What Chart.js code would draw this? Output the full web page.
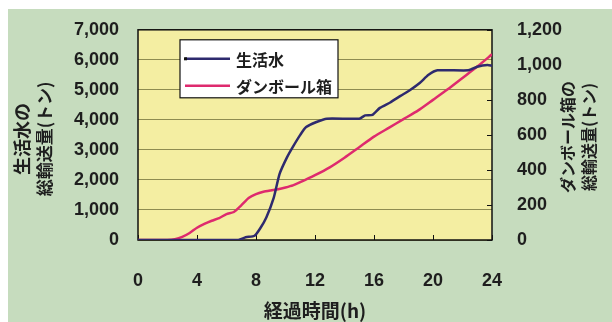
<!DOCTYPE html>
<html lang="ja">
<head>
<meta charset="utf-8">
<script src="https://cdn.jsdelivr.net/npm/chart.js@4.4.1/dist/chart.umd.min.js"></script>
<style>
  body { margin: 0; background: #fff; }
  canvas { display: block; }
</style>
</head>
<body>
<canvas id="chart" width="612" height="322"></canvas>
<script>
// 生活水 (left axis, t)
const waterHours = [0, 3, 6.8, 7.3, 7.9, 8.3, 8.7, 9.2, 9.6, 10.1, 10.5, 11, 11.4, 12.1, 12.8, 15, 15.4, 15.9, 16.4, 17.1, 17.8, 18.4, 19.1, 19.7, 20.3, 22.4, 23, 23.7, 24];
const waterTons = [0, 0, 0, 90, 140, 400, 750, 1400, 2200, 2750, 3100, 3500, 3760, 3930, 4040, 4040, 4150, 4170, 4400, 4580, 4800, 4980, 5230, 5500, 5650, 5650, 5770, 5830, 5800];

// ダンボール箱 (right axis, t)
const boxHours = [0, 1, 2, 2.5, 3, 3.5, 4, 4.5, 5, 5.5, 6, 6.5, 7, 7.5, 8, 8.5, 9, 9.5, 10, 10.5, 11, 12, 13, 14, 15, 16, 17, 18, 19, 20, 21, 22, 23, 24];
const boxTons = [0, 0, 0, 5, 18, 40, 70, 92, 110, 125, 148, 160, 198, 240, 262, 275, 283, 290, 300, 312, 330, 370, 415, 470, 530, 590, 640, 690, 740, 800, 860, 925, 990, 1060];

const xTicks = [0, 4, 8, 12, 16, 20, 24];
const leftTicks = [0, 1000, 2000, 3000, 4000, 5000, 6000, 7000];
const rightTicks = [0, 200, 400, 600, 800, 1000, 1200];

const FONT = "'Liberation Sans', 'Noto Sans CJK JP', sans-serif";
const JP_FONT = "'Noto Sans CJK JP', sans-serif";
const TEXT = '#1e1e1e';

const toPoints = (xs, ys) => xs.map((x, i) => ({ x: x, y: ys[i] }));
const fmt = v => v.toLocaleString('en-US');

const backdrop = {
  id: 'backdrop',
  beforeDraw(chart) {
    const { ctx, chartArea: a, width, height } = chart;
    ctx.save();
    ctx.fillStyle = '#ffffff';
    ctx.fillRect(0, 0, width, height);
    ctx.fillStyle = '#c6dcbe';
    ctx.fillRect(8, 9, width - 8, height - 9);
    ctx.fillStyle = '#f4eea2';
    ctx.fillRect(a.left, a.top, a.right - a.left, a.bottom - a.top);
    ctx.restore();
  },
  beforeDatasetsDraw(chart) {
    const { ctx, chartArea: a, scales } = chart;
    ctx.save();
    ctx.strokeStyle = '#111';
    ctx.lineWidth = 1.5;
    ctx.strokeRect(a.left, a.top, a.right - a.left, a.bottom - a.top);
    ctx.lineWidth = 1;
    // inward tick marks on the right and bottom axes
    scales.y1.ticks.forEach(t => {
      const y = Math.round(scales.y1.getPixelForValue(t.value)) + 0.5;
      ctx.beginPath(); ctx.moveTo(a.right, y); ctx.lineTo(a.right - 5, y); ctx.stroke();
    });
    scales.x.ticks.forEach(t => {
      const x = Math.round(scales.x.getPixelForValue(t.value)) + 0.5;
      ctx.beginPath(); ctx.moveTo(x, a.bottom); ctx.lineTo(x, a.bottom - 5); ctx.stroke();
    });
    ctx.restore();
  },
  afterDraw(chart) {
    const { ctx, chartArea: a } = chart;
    const midY = (a.top + a.bottom) / 2 + 30;
    ctx.save();
    ctx.fillStyle = TEXT;
    ctx.textAlign = 'center';
    ctx.textBaseline = 'middle';
    // left axis title
    ctx.save();
    ctx.translate(22, midY - 26);
    ctx.rotate(-Math.PI / 2);
    ctx.font = 'bold 18px ' + JP_FONT;
    ctx.fillText('生活水の', 0, 0);
    ctx.restore();
    ctx.save();
    ctx.translate(45, midY - 26);
    ctx.rotate(-Math.PI / 2);
    ctx.font = 'bold 17px ' + JP_FONT;
    ctx.fillText('総輸送量(トン)', 0, 0);
    ctx.restore();
    // right axis title
    ctx.save();
    ctx.translate(568, midY - 28);
    ctx.rotate(-Math.PI / 2);
    ctx.font = 'bold 16px ' + JP_FONT;
    ctx.fillText('ダンボール箱の', 0, 0);
    ctx.restore();
    ctx.save();
    ctx.translate(589, midY - 28);
    ctx.rotate(-Math.PI / 2);
    ctx.font = 'bold 16px ' + JP_FONT;
    ctx.fillText('総輸送量(トン)', 0, 0);
    ctx.restore();
    ctx.restore();
  }
};

const legendBox = {
  id: 'legendBox',
  afterDatasetsDraw(chart) {
    const { ctx, chartArea: a } = chart;
    const x = a.left + 42, y = a.top + 10, w = 158, h = 58;
    ctx.save();
    ctx.fillStyle = '#ffffff';
    ctx.fillRect(x, y, w, h);
    ctx.strokeStyle = '#111';
    ctx.lineWidth = 1.2;
    ctx.strokeRect(x, y, w, h);
    chart.data.datasets.forEach((ds, i) => {
      const ly = y + 19 + i * 27;
      ctx.strokeStyle = ds.borderColor;
      ctx.lineWidth = 2.5;
      ctx.beginPath(); ctx.moveTo(x + 5, ly); ctx.lineTo(x + 50, ly); ctx.stroke();
      if (i === 0) { ctx.fillStyle = '#111'; ctx.fillRect(x + 4, ly - 1.5, 3, 3); }
      ctx.fillStyle = TEXT;
      ctx.font = 'bold 16px ' + JP_FONT;
      ctx.textBaseline = 'middle';
      ctx.fillText(ds.label, x + 56, ly + 1);
    });
    ctx.restore();
  }
};

new Chart(document.getElementById('chart'), {
  type: 'line',
  data: {
    datasets: [
      {
        label: '生活水',
        data: toPoints(waterHours, waterTons),
        yAxisID: 'y',
        borderColor: '#2e2a6e',
        borderWidth: 2.5,
        pointRadius: 0,
        tension: 0.2
      },
      {
        label: 'ダンボール箱',
        data: toPoints(boxHours, boxTons),
        yAxisID: 'y1',
        borderColor: '#de2a6e',
        borderWidth: 2.5,
        pointRadius: 0,
        tension: 0.2
      }
    ]
  },
  options: {
    responsive: false,
    animation: false,
    layout: { padding: { top: 26 } },
    plugins: { legend: { display: false }, tooltip: { enabled: false } },
    scales: {
      x: {
        type: 'linear',
        min: 0,
        max: 24,
        afterBuildTicks: s => { s.ticks = xTicks.map(v => ({ value: v })); },
        afterFit: s => { s.height = 82; },
        grid: { display: false },
        border: { display: false },
        ticks: { padding: 22, color: TEXT, font: { family: FONT, size: 18, weight: 'bold' }, maxRotation: 0 },
        title: { display: true, text: '経過時間(h)', color: TEXT, font: { family: JP_FONT, size: 19, weight: 'bold' }, padding: 0 }
      },
      y: {
        position: 'left',
        min: 0,
        max: 7000,
        afterBuildTicks: s => { s.ticks = leftTicks.map(v => ({ value: v })); },
        afterFit: s => { s.width = 138; },
        grid: { color: '#8e8c50', lineWidth: 1, drawTicks: false },
        border: { display: false },
        ticks: { padding: 19, color: TEXT, font: { family: FONT, size: 18, weight: 'bold' }, callback: fmt }
      },
      y1: {
        position: 'right',
        min: 0,
        max: 1200,
        afterBuildTicks: s => { s.ticks = rightTicks.map(v => ({ value: v })); },
        afterFit: s => { s.width = 120; },
        grid: { display: false },
        border: { display: false },
        ticks: { padding: 17, color: TEXT, font: { family: FONT, size: 18, weight: 'bold' }, callback: fmt }
      }
    }
  },
  plugins: [backdrop, legendBox]
});
</script>
</body>
</html>
